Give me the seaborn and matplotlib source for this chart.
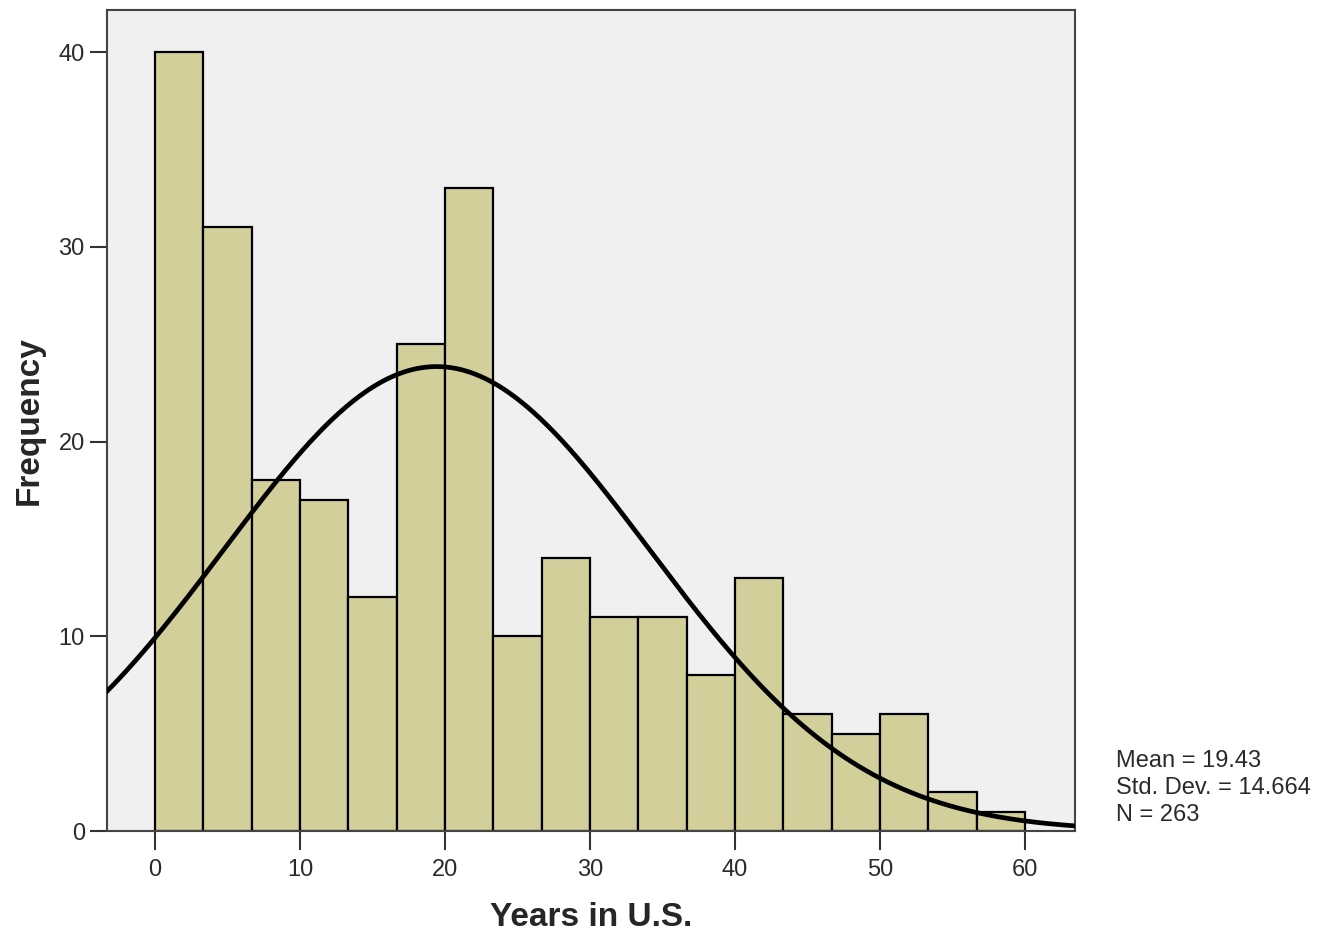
import numpy as np
import pandas as pd
import seaborn as sns
import matplotlib
matplotlib.use("Agg")
import matplotlib.pyplot as plt

# histogram bins (years in U.S.), 18 bins from 0 to 60
bin_edges = list(np.linspace(0, 60, 19))
counts = [40, 31, 18, 17, 12, 25, 33, 10, 14, 11, 11, 8, 13, 6, 5, 6, 2, 1]
x_ticks = [0, 10, 20, 30, 40, 50, 60]
y_ticks = [0, 10, 20, 30, 40]

mean_val = 19.43
sd_val = 14.664
n_val = 263


def main():
    sns.set_style("white")
    plt.rcParams['font.family'] = ['Liberation Sans', 'DejaVu Sans']

    fig = plt.figure(figsize=(13.26, 9.35), dpi=100)
    ax = fig.add_axes([0.0807, 0.1112, 0.7300, 0.8781])
    ax.set_facecolor("#f0f0f0")

    edges = np.array(bin_edges)
    centers = (edges[:-1] + edges[1:]) / 2
    df = pd.DataFrame({"years": centers, "count": counts})
    sns.histplot(data=df, x="years", weights="count", bins=bin_edges,
                 color="#d3cf9b", alpha=1, edgecolor="black",
                 linewidth=1.6, ax=ax, zorder=2)

    # normal curve scaled to counts
    bw = edges[1] - edges[0]
    xs = np.linspace(-3.4, 63.5, 400)
    ys = n_val * bw / (sd_val * np.sqrt(2 * np.pi)) * \
        np.exp(-0.5 * ((xs - mean_val) / sd_val) ** 2)
    curve = pd.DataFrame({"x": xs, "y": ys})
    sns.lineplot(data=curve, x="x", y="y", color="black", linewidth=3.4,
                 ax=ax, zorder=3)

    ax.set_xlim(-3.3, 63.45)
    ax.set_ylim(0, 42.16)
    ax.set_xticks(x_ticks)
    ax.set_yticks(y_ticks)
    ax.tick_params(axis="both", direction="out", width=1.5,
                   labelsize=17, color="#333333", labelcolor="#2a2a2a",
                   bottom=True, left=True)
    ax.tick_params(axis="x", length=14, pad=6)
    ax.tick_params(axis="y", length=12, pad=4)
    for s in ax.spines.values():
        s.set_color("#444444")
        s.set_linewidth(1.5)

    ax.set_xlabel("Years in U.S.", fontsize=24, fontweight="bold", labelpad=15)
    ax.set_ylabel("Frequency", fontsize=24, fontweight="bold", labelpad=10)

    fig.text(0.842, 0.157,
             f"Mean = {mean_val:.2f}\nStd. Dev. = {sd_val:.3f}\nN = {n_val}",
             fontsize=17, color="#2a2a2a", va="center", ha="left",
             linespacing=1.3)

    fig.savefig("out.png", dpi=100)


if __name__ == "__main__":
    main()
